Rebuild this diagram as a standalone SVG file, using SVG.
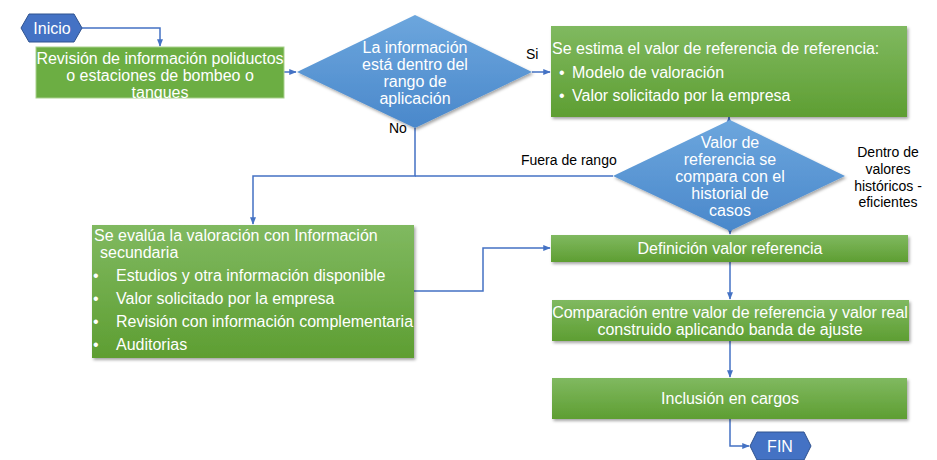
<svg xmlns="http://www.w3.org/2000/svg" width="937" height="460" viewBox="0 0 937 460">
<defs>
<linearGradient id="gG" x1="0" y1="0" x2="0" y2="1"><stop offset="0" stop-color="#80B960"/><stop offset="1" stop-color="#5E9E32"/></linearGradient>
<linearGradient id="gB" x1="0" y1="0" x2="0" y2="1"><stop offset="0" stop-color="#6CA6DD"/><stop offset="1" stop-color="#4A88CB"/></linearGradient>
<filter id="sh" x="-5%" y="-10%" width="115%" height="130%"><feDropShadow dx="1.5" dy="2" stdDeviation="1.5" flood-color="#000" flood-opacity="0.35"/></filter>
<marker id="ah" viewBox="0 0 10 10" refX="9" refY="5" markerWidth="5" markerHeight="5" orient="auto"><path d="M0,1 L10,5 L0,9 z" fill="#4472C4"/></marker>
<style>
text{font-family:"Liberation Sans",Arial,sans-serif;}
.w{fill:#fff;font-size:16px;}
.lbl{fill:#000;font-size:14px;}
.c{text-anchor:middle;}
.box{fill:url(#gG);filter:url(#sh);}
.dia{fill:url(#gB);filter:url(#sh);}
.hex{fill:#4472C4;stroke:#2F528F;stroke-width:1;}
.cn{fill:none;stroke:#4472C4;stroke-width:1.5;}
</style>
</defs>
<g id="connectors">
<path class="cn" d="M82,28 H160 V46" marker-end="url(#ah)"/>
<path class="cn" d="M284,72 H296" marker-end="url(#ah)"/>
<path class="cn" d="M532,72 H550" marker-end="url(#ah)"/>
<path class="cn" d="M729,120 V117" marker-end="url(#ah)"/>
<path class="cn" d="M415,128 V176 H253 V224" marker-end="url(#ah)"/>
<path class="cn" d="M613,176 H415"/>
<path class="cn" d="M730,231 V234" marker-end="url(#ah)"/>
<path class="cn" d="M414,291 H483 V248 H550" marker-end="url(#ah)"/>
<path class="cn" d="M730,262 V299" marker-end="url(#ah)"/>
<path class="cn" d="M730,341 V377" marker-end="url(#ah)"/>
<path class="cn" d="M730,419 V446 H749" marker-end="url(#ah)"/>
</g>
<g id="inicio">
<polygon class="hex" points="21,28 29,14 74,14 82,28 74,42 29,42"/>
<text class="w c" x="52" y="34" font-size="17.5">Inicio</text>
</g>
<g id="revision">
<rect x="36" y="47" width="248" height="51" fill="#6CAE43" stroke="#A9D18E" stroke-width="1"/>
<text class="w c" x="160" y="64">Revisión de información poliductos</text>
<text class="w c" x="160" y="81">o estaciones de bombeo o</text>
<text class="w c" x="160" y="98">tanques</text>
</g>
<g id="decision1">
<polygon class="dia" points="297,72 415,15 532,72 415,128"/>
<text class="w c" x="415" y="53">La información</text>
<text class="w c" x="415" y="70">está dentro del</text>
<text class="w c" x="415" y="87">rango de</text>
<text class="w c" x="415" y="104">aplicación</text>
<text class="lbl" x="526" y="59">Si</text>
<text class="lbl" x="389" y="133">No</text>
</g>
<g id="estima">
<rect class="box" x="551" y="26" width="356" height="91"/>
<text class="w" x="552" y="54">Se estima el valor de referencia de referencia:</text>
<text class="w" x="559" y="78">•</text>
<text class="w" x="572" y="78">Modelo de valoración</text>
<text class="w" x="559" y="101">•</text>
<text class="w" x="572" y="101">Valor solicitado por la empresa</text>
</g>
<g id="decision2">
<polygon class="dia" points="613,176 730,120 845,176 730,231"/>
<text class="w c" x="730" y="148">Valor de</text>
<text class="w c" x="730" y="165">referencia se</text>
<text class="w c" x="730" y="182">compara con el</text>
<text class="w c" x="730" y="199">historial de</text>
<text class="w c" x="730" y="216">casos</text>
<text class="lbl" x="521" y="165">Fuera de rango</text>
<text class="lbl c" x="888" y="157">Dentro de</text>
<text class="lbl c" x="888" y="174">valores</text>
<text class="lbl c" x="888" y="191">históricos -</text>
<text class="lbl c" x="888" y="207">eficientes</text>
</g>
<g id="evalua">
<rect class="box" x="92" y="225" width="322" height="133"/>
<text class="w" x="94" y="241">Se evalúa la valoración con Información</text>
<text class="w" x="100" y="258">secundaria</text>
<text class="w" x="93" y="281">•</text>
<text class="w" x="116" y="281">Estudios y otra información disponible</text>
<text class="w" x="93" y="304">•</text>
<text class="w" x="116" y="304">Valor solicitado por la empresa</text>
<text class="w" x="93" y="327">•</text>
<text class="w" x="116" y="327">Revisión con información complementaria</text>
<text class="w" x="93" y="350">•</text>
<text class="w" x="116" y="350">Auditorias</text>
</g>
<g id="definicion">
<rect class="box" x="551" y="235" width="357" height="27"/>
<text class="w c" x="730" y="254">Definición valor referencia</text>
</g>
<g id="comparacion">
<rect class="box" x="552" y="300" width="357" height="41"/>
<text class="w c" x="730" y="318">Comparación entre valor de referencia y valor real</text>
<text class="w c" x="730" y="335">construido aplicando banda de ajuste</text>
</g>
<g id="inclusion">
<rect class="box" x="552" y="378" width="355" height="41"/>
<text class="w c" x="730" y="404">Inclusión en cargos</text>
</g>
<g id="fin">
<polygon class="hex" points="750,446 757,432 804,432 811,446 804,460 757,460"/>
<text class="w c" x="780" y="452" font-size="17.5">FIN</text>
</g>
</svg>
